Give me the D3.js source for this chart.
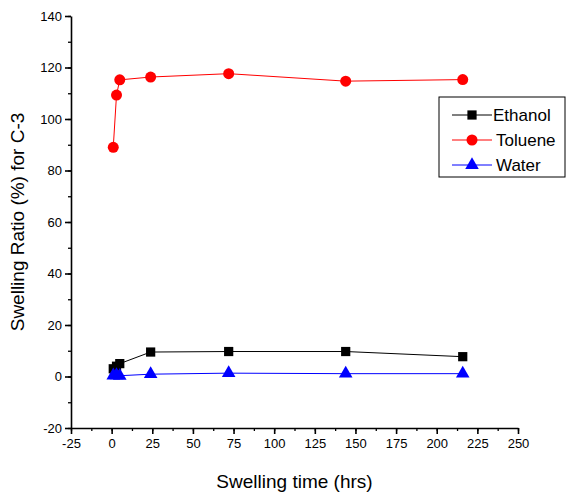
<!DOCTYPE html>
<html>
<head>
<meta charset="utf-8">
<script src="https://cdn.jsdelivr.net/npm/d3@7"></script>
<style>
  html, body { margin: 0; padding: 0; background: #fff; }
  svg { display: block; font-family: "Liberation Sans", Arial, sans-serif; }
</style>
</head>
<body>
<svg id="chart" width="567" height="498"></svg>
<script>
// Swelling ratio of sample C-3 in three solvents over time
const seriesNames = ["Ethanol", "Toluene", "Water"];
const seriesColors = ["#000000", "#ff0000", "#0000ff"];
const timeEthanol = [1, 3, 5, 24, 72, 144, 216];
const ethanol = [3, 4, 5, 9.5, 9.7, 9.7, 7.7];
const timeToluene = [1, 3, 5, 24, 72, 144, 216];
const toluene = [89, 109.3, 115.2, 116.3, 117.6, 114.7, 115.3];
const timeWater = [1, 3, 5, 24, 72, 144, 216];
const water = [0.4, 0.5, 0.3, 0.9, 1.3, 1.1, 1.1];
const xTicks = [-25, 0, 25, 50, 75, 100, 125, 150, 175, 200, 225, 250];
const yTicks = [-20, 0, 20, 40, 60, 80, 100, 120, 140];

const svg = d3.select("#chart");
const plotLeft = 71, plotRight = 518, plotTop = 16, plotBottom = 428;

const x = d3.scaleLinear().domain([-25, 250]).range([plotLeft, plotRight]);
const y = d3.scaleLinear().domain([-20, 140]).range([plotBottom, plotTop]);

// minor ticks
const xMinor = d3.range(-25, 250.1, 12.5);
const yMinor = d3.range(-20, 140.1, 10);

svg.append("g")
  .attr("transform", `translate(0,${plotBottom})`)
  .call(d3.axisBottom(x).tickValues(xMinor).tickSize(3).tickFormat(""))
  .call(g => g.select(".domain").remove())
  .selectAll("line").attr("stroke-width", 1.3);
svg.append("g")
  .attr("transform", `translate(${plotLeft},0)`)
  .call(d3.axisLeft(y).tickValues(yMinor).tickSize(3).tickFormat(""))
  .call(g => g.select(".domain").remove())
  .selectAll("line").attr("stroke-width", 1.3);

// plain hyphen for negative labels
const fmt = d => String(d);

const xAxis = svg.append("g")
  .attr("transform", `translate(0,${plotBottom})`)
  .call(d3.axisBottom(x).tickValues(xTicks).tickFormat(fmt).tickSize(6).tickSizeOuter(0).tickPadding(5));
const yAxis = svg.append("g")
  .attr("transform", `translate(${plotLeft},0)`)
  .call(d3.axisLeft(y).tickValues(yTicks).tickFormat(fmt).tickSize(6).tickSizeOuter(0).tickPadding(3));

[xAxis, yAxis].forEach(g => {
  g.select(".domain").attr("stroke-width", 1.6);
  g.selectAll("line").attr("stroke-width", 1.6);
  g.selectAll("text")
    .attr("font-family", "Liberation Sans, Arial, sans-serif")
    .attr("font-size", 13).attr("fill", "#000");
});

// axis titles
svg.append("text")
  .attr("x", (plotLeft + plotRight) / 2).attr("y", 488)
  .attr("text-anchor", "middle").attr("font-size", 19)
  .text("Swelling time (hrs)");
svg.append("text")
  .attr("transform", `translate(24,${(plotTop + plotBottom) / 2}) rotate(-90)`)
  .attr("text-anchor", "middle").attr("font-size", 19)
  .text("Swelling Ratio (%) for C-3");

const data = [
  { name: seriesNames[0], t: timeEthanol, v: ethanol, color: seriesColors[0], shape: d3.symbolSquare, size: 85 },
  { name: seriesNames[1], t: timeToluene, v: toluene, color: seriesColors[1], shape: d3.symbolCircle, size: 95 },
  { name: seriesNames[2], t: timeWater, v: water, color: seriesColors[2], shape: d3.symbolTriangle, size: 80 }
];

const line = d3.line().x(d => x(d[0])).y(d => y(d[1]));

data.forEach(s => {
  const pts = s.t.map((t, i) => [t, s.v[i]]);
  svg.append("path").datum(pts)
    .attr("d", line).attr("fill", "none")
    .attr("stroke", s.color).attr("stroke-width", 1);
  svg.selectAll(null).data(pts).enter().append("path")
    .attr("transform", d => `translate(${x(d[0])},${y(d[1])})`)
    .attr("d", d3.symbol().type(s.shape).size(s.size))
    .attr("fill", s.color);
});

// legend
const lg = svg.append("g").attr("transform", "translate(439,97)");
lg.append("rect").attr("width", 126).attr("height", 80)
  .attr("fill", "#fff").attr("stroke", "#000").attr("stroke-width", 1);
data.forEach((s, i) => {
  const yy = 18 + i * 25;
  lg.append("line").attr("x1", 13).attr("x2", 53).attr("y1", yy).attr("y2", yy)
    .attr("stroke", s.color).attr("stroke-width", 1);
  lg.append("path").attr("transform", `translate(33,${yy})`)
    .attr("d", d3.symbol().type(s.shape).size(s.size)).attr("fill", s.color);
  lg.append("text").attr("x", i === 0 ? 54 : 57).attr("y", yy + 6)
    .attr("font-size", 17).text(s.name);
});
</script>
</body>
</html>
